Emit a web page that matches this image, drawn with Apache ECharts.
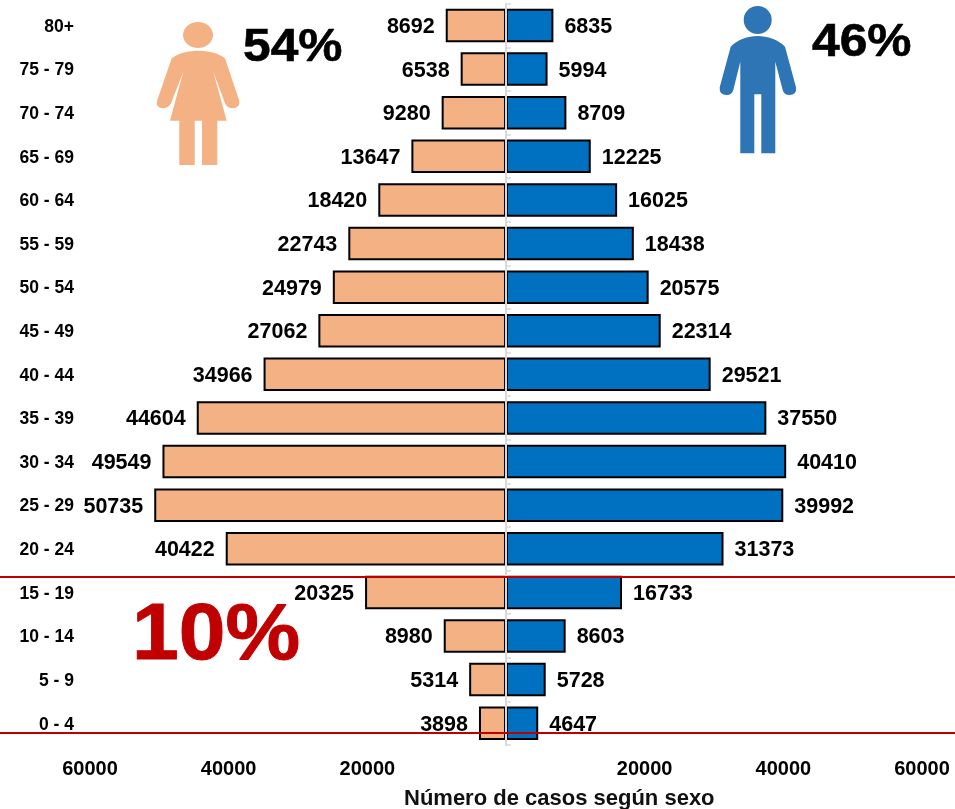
<!DOCTYPE html>
<html><head><meta charset="utf-8">
<style>html,body{margin:0;padding:0;background:#fff}#c{width:955px;height:809px}</style>
<script src="https://cdn.jsdelivr.net/npm/echarts@6/dist/echarts.min.js"></script>
</head><body><div id="c"></div>
<script>
const ageGroups = ['80+','75 - 79','70 - 74','65 - 69','60 - 64','55 - 59','50 - 54','45 - 49','40 - 44','35 - 39','30 - 34','25 - 29','20 - 24','15 - 19','10 - 14','5 - 9','0 - 4'];
const women = [8692,6538,9280,13647,18420,22743,24979,27062,34966,44604,49549,50735,40422,20325,8980,5314,3898];
const men = [6835,5994,8709,12225,16025,18438,20575,22314,29521,37550,40410,39992,31373,16733,8603,5728,4647];

const FONT = '"Liberation Sans", Arial, sans-serif';
const womanPath = 'M171.7 58.3 C178 53 190 50.7 198.3 50.7 C207 50.7 219 53 225 58.3 L239 100 Q241 108 231.7 108.3 Q227 108 225 103.3 L213.3 71.7 L226.7 120.7 L217.3 120.7 L217.3 165 L202 165 L202 120.7 L194.7 120.7 L194.7 165 L179.3 165 L179.3 120.7 L170 120.7 L183.3 71.7 L171 103.3 Q169 108 163.3 108.3 Q155 108 157.3 100 Z';
const manPath = 'M730.7 46.7 C737 40 748 36 757.7 36 C767 36 779 40 785 46.7 L796 87.3 Q797 95 789.3 95 Q784 95 782.7 90 L775.3 61.7 L775.3 153.3 L761.3 153.3 L761.3 94.3 L754.3 94.3 L754.3 153.3 L740.3 153.3 L740.3 61.7 L733.3 90 Q732 95 726.7 95 Q719 95 719.7 87.3 Z';
echarts.graphic.registerShape('womanIcon', echarts.graphic.extendPath(womanPath, {}));
echarts.graphic.registerShape('manIcon', echarts.graphic.extendPath(manPath, {}));

const barStyle = (c) => ({color: c, borderColor: '#000', borderWidth: 2});
const barLabel = (pos, dist) => ({
  show: true, position: pos, distance: dist, offset: [0, 1.5], color: '#000',
  fontFamily: FONT, fontWeight: 'bold', fontSize: 21.5,
  formatter: p => String(Math.abs(p.value))
});

const chart = echarts.init(document.getElementById('c'), null, {renderer: 'canvas'});
chart.setOption({
  animation: false,
  backgroundColor: '#fff',
  title: {
    text: 'Número de casos según sexo', left: 399, top: 783,
    textStyle: {fontFamily: FONT, fontWeight: 'bold', fontSize: 22, color: '#111'}
  },
  grid: {left: 90, right: 33, top: 3.7, bottom: 64, containLabel: false},
  xAxis: {
    type: 'value', min: -60000, max: 60000, interval: 20000, position: 'bottom',
    axisLine: {show: false}, axisTick: {show: false}, splitLine: {show: false},
    axisLabel: {
      margin: 14, color: '#000', fontFamily: FONT, fontWeight: 'bold', fontSize: 20,
      formatter: v => v === 0 ? '' : String(Math.abs(v))
    }
  },
  yAxis: [{
    type: 'category', data: ageGroups, inverse: true, position: 'left',
    axisLine: {show: false, onZero: false}, axisTick: {show: false},
    axisLabel: {margin: 16, align: 'right', verticalAlign: 'top', lineHeight: 3, color: '#000', fontFamily: FONT, fontWeight: 'bold', fontSize: 17.5}
  }, {
    type: 'category', data: ageGroups, inverse: true, position: 'left', z: 5,
    axisLine: {show: true, onZero: true, onZeroAxisIndex: 0, lineStyle: {color: '#D9D9D9', width: 2}},
    axisTick: {show: true, inside: true, length: 5, lineStyle: {color: '#D9D9D9', width: 1.5}},
    axisLabel: {show: false}
  }],
  series: [{
    name: 'Mujeres', type: 'bar', yAxisIndex: 0, barWidth: 33.5, barGap: '-100%',
    data: women.map(v => -v), itemStyle: barStyle('#F4B183'), label: barLabel('left', 11)
  }, {
    name: 'Hombres', type: 'bar', yAxisIndex: 0, barWidth: 33.5, barGap: '-100%',
    data: men, itemStyle: barStyle('#0070C0'), label: barLabel('right', 11)
  }],
  graphic: [
    {type: 'line', z: 20, shape: {x1: 0, y1: 577, x2: 955, y2: 577}, style: {stroke: '#C00000', lineWidth: 2}},
    {type: 'line', z: 20, shape: {x1: 0, y1: 733, x2: 955, y2: 733}, style: {stroke: '#C00000', lineWidth: 2}},
    {type: 'text', z: 20, x: 132, y: 597, scaleX: 1.05, style: {text: '10%', fill: '#C00000', stroke: '#C00000', lineWidth: 1, font: 'bold 80px ' + FONT}},
    {type: 'text', z: 20, x: 243, y: 25, scaleX: 1.08, style: {text: '54%', fill: '#000', stroke: '#000', lineWidth: 0.6, font: 'bold 46px ' + FONT}},
    {type: 'text', z: 20, x: 812, y: 20, scaleX: 1.08, style: {text: '46%', fill: '#000', stroke: '#000', lineWidth: 0.6, font: 'bold 46px ' + FONT}},
    {type: 'ellipse', z: 20, shape: {cx: 198, cy: 35, rx: 15, ry: 13}, style: {fill: '#F4B183'}},
    {type: 'womanIcon', z: 20, style: {fill: '#F4B183'}},
    {type: 'circle', z: 20, shape: {cx: 757.7, cy: 20, r: 14}, style: {fill: '#2E75B6'}},
    {type: 'manIcon', z: 20, style: {fill: '#2E75B6'}}
  ]
});
</script></body></html>
